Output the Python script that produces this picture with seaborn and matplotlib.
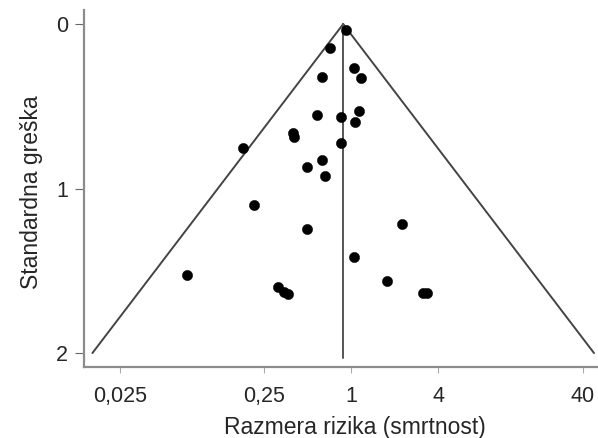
import numpy as np
import pandas as pd
import matplotlib
matplotlib.use("Agg")
import matplotlib.pyplot as plt
import seaborn as sns

# values
risk_ratio = [0.916, 0.710, 1.046, 1.174, 0.631, 1.141, 0.583, 0.846, 1.057,
              0.846, 0.392, 0.402, 0.177, 0.625, 0.493, 0.659, 0.213, 2.255,
              0.493, 1.050, 0.073, 1.776, 0.309, 0.343, 0.362, 3.134, 3.340]
std_error = [0.036, 0.144, 0.266, 0.330, 0.322, 0.526, 0.553, 0.567, 0.598,
             0.725, 0.665, 0.685, 0.752, 0.829, 0.867, 0.922, 1.102, 1.218,
             1.244, 1.415, 1.524, 1.564, 1.599, 1.627, 1.641, 1.633, 1.633]

pooled_rr = 0.88
funnel_z = 2.0
se_max = 2.0

x_ticks = [0.025, 0.25, 1, 4, 40]
x_tick_labels = ["0,025", "0,25", "1", "4", "40"]
y_ticks = [0, 1, 2]

sns.set_theme(style="ticks")
plt.rcParams['font.family'] = ['Liberation Sans', 'DejaVu Sans']

df = pd.DataFrame({"rr": risk_ratio, "se": std_error})

fig = plt.figure(figsize=(5.98, 4.38), dpi=100)
ax = fig.add_axes([0.1405, 0.162, 0.857, 0.815])

# funnel: pooled estimate +/- z * SE on the log scale
se_line = np.array([0.0, se_max])
ax.plot(pooled_rr * np.exp(-funnel_z * se_line), se_line, color="#444444", lw=1.4)
ax.plot(pooled_rr * np.exp(funnel_z * se_line), se_line, color="#444444", lw=1.4)
ax.plot([pooled_rr, pooled_rr], [0, se_max + 0.03], color="#555555", lw=1.4)

sns.scatterplot(data=df, x="rr", y="se", ax=ax, color="black", s=55,
                edgecolor="black", linewidth=0.3, zorder=3)

ax.set_xscale("log")
ax.set_xlim(0.0141, 50)
ax.set_ylim(2.085, -0.085)
ax.xaxis.set_major_locator(matplotlib.ticker.FixedLocator(x_ticks))
ax.xaxis.set_minor_locator(matplotlib.ticker.NullLocator())
ax.set_xticklabels(x_tick_labels)
ax.set_yticks(y_ticks)
ax.set_yticklabels([str(t) for t in y_ticks])

sns.despine(ax=ax)
for side in ["left", "bottom"]:
    ax.spines[side].set_color("#8c8c8c")
    ax.spines[side].set_linewidth(1.6)

ax.tick_params(axis="x", direction="out", length=4, width=0.8, color="#aaaaaa",
               labelsize=15.5, pad=10)
ax.tick_params(axis="y", direction="out", length=6.5, width=0.8, color="#666666",
               labelsize=15.5, pad=5)

ax.set_xlabel("Razmera rizika (smrtnost)", fontsize=16.5)
ax.set_ylabel("Standardna greška", fontsize=16.5)
ax.xaxis.set_label_coords(0.529, -0.137)
ax.yaxis.set_label_coords(-0.08, 0.49)

fig.savefig("out.png", dpi=100)
